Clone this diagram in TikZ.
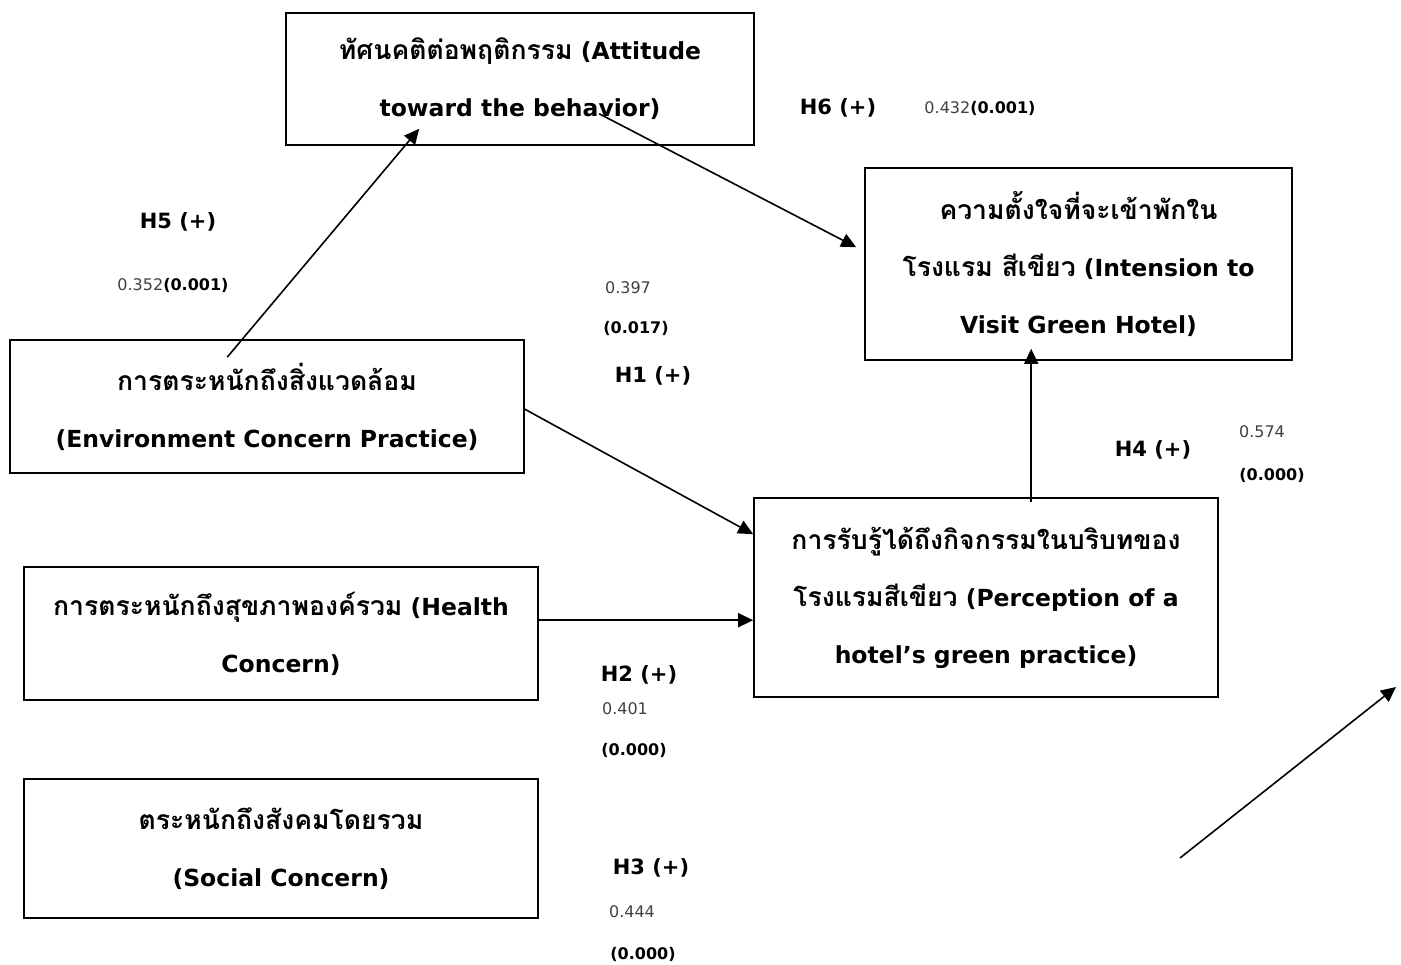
\documentclass[tikz,border=0pt]{standalone}
\usepackage{fontspec}
\setmainfont{DejaVu Sans}
\newfontfamily\thf{Loma}[Script=Thai,Scale=1.13]
\usetikzlibrary{arrows.meta,calc}
\begin{document}
\begin{tikzpicture}[x=1pt,y=-1pt,
  box/.style={draw,line width=1.6pt,align=center,font=\fontsize{23.5}{57}\selectfont\bfseries,inner sep=0pt},
  hyp/.style={font=\fontsize{21}{24}\selectfont\bfseries,inner sep=0pt},
  val/.style={font=\fontsize{16}{18}\selectfont,inner sep=0pt,text=black!75},
  pv/.style={font=\fontsize{16}{18}\selectfont\bfseries,inner sep=0pt},
  arr/.style={line width=1.6pt,-{Triangle[length=15pt,width=14pt]}}]
\useasboundingbox (0,0) rectangle (1401,965);
\node[box,minimum width=468pt,minimum height=132pt] (att) at (520,79) {{\thf ทัศนคติต่อพฤติกรรม} (Attitude\\toward the behavior)};
\node[box,minimum width=427pt,minimum height=192pt] (int) at (1078.5,264) {{\thf ความตั้งใจที่จะเข้าพักใน}\\{\thf โรงแรม สีเขียว} (Intension to\\Visit Green Hotel)};
\node[box,minimum width=514pt,minimum height=133pt] (env) at (267,406.5) {{\thf การตระหนักถึงสิ่งแวดล้อม}\\(Environment Concern Practice)};
\node[box,minimum width=464pt,minimum height=199pt] (per) at (986,597.5) {{\thf การรับรู้ได้ถึงกิจกรรมในบริบทของ}\\{\thf โรงแรมสีเขียว} (Perception of a\\hotel’s green practice)};
\node[box,minimum width=514pt,minimum height=133pt] (hea) at (281,633.5) {{\thf การตระหนักถึงสุขภาพองค์รวม} (Health\\Concern)};
\node[box,minimum width=514pt,minimum height=139pt] (soc) at (281,848.5) {{\thf ตระหนักถึงสังคมโดยรวม}\\(Social Concern)};
% arrow end points
\coordinate (h5s) at ($(env.north west)+(218,18)$);
\coordinate (h5e) at ($(att.south west)+(134,-17)$);
\coordinate (h6s) at ($(att.south west)+(314,-32)$);
\coordinate (h6e) at ($(int.north west)+(-8,80)$);
\coordinate (h1s) at ($(env.north east)+(0,70)$);
\coordinate (h1e) at ($(per.north west)+(0,37)$);
\coordinate (h2s) at ($(hea.north east)+(0,54)$);
\coordinate (h2e) at ($(per.north west)+(0,123)$);
\coordinate (h4s) at ($(per.north west)+(278,5)$);
\coordinate (h4e) at ($(int.south west)+(167,-12)$);
\coordinate (fs) at (1180,858);
\coordinate (fe) at (1396,687);
\draw[arr] (h5s) -- (h5e);
\draw[arr] (h6s) -- (h6e);
\draw[arr] (h1s) -- (h1e);
\draw[arr] (h2s) -- (h2e);
\draw[arr] (h4s) -- (h4e);
\draw[arr] (fs) -- (fe);
% labels
\node[hyp] (l6) at (838,108) {H6 (+)};
\node[inner sep=0pt] (v6) at (980,108) {\fontsize{16}{18}\selectfont\textcolor{black!75}{0.432}\bfseries(0.001)};
\node[hyp] (l5) at (178,222) {H5 (+)};
\node[inner sep=0pt] (v5) at (173,285) {\fontsize{16}{18}\selectfont\textcolor{black!75}{0.352}\bfseries(0.001)};
\node[val] (v1) at (628,288) {0.397};
\node[pv] (p1) at (636,328) {(0.017)};
\node[hyp] (l1) at (653,376) {H1 (+)};
\node[hyp] (l4) at (1153,450) {H4 (+)};
\node[val] (v4) at (1262,432) {0.574};
\node[pv] (p4) at (1272,475) {(0.000)};
\node[hyp] (l2) at (639,675) {H2 (+)};
\node[val] (v2) at (625,709) {0.401};
\node[pv] (p2) at (634,750) {(0.000)};
\node[hyp] (l3) at (651,868) {H3 (+)};
\node[val] (v3) at (632,912) {0.444};
\node[pv] (p3) at (643,954) {(0.000)};
\end{tikzpicture}
\end{document}
